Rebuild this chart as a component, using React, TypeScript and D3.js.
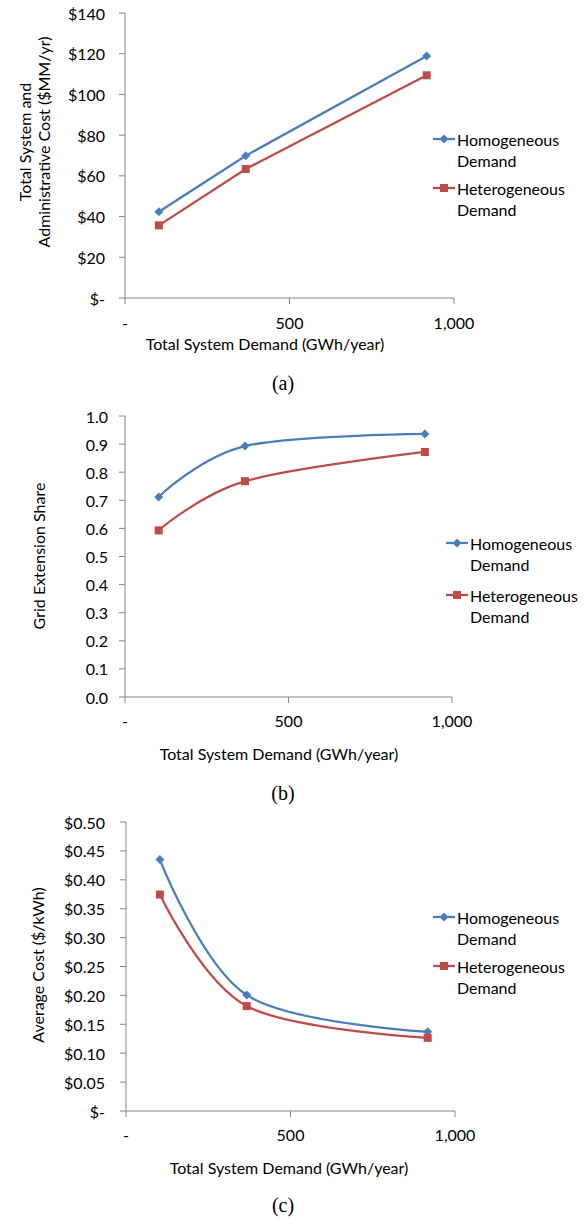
import React from "react";
import * as d3 from "d3";

const demand = [103, 367, 917];
const costHomog = [42.4, 69.9, 118.9];
const costHetero = [35.7, 63.4, 109.4];
const shareHomog = [0.712, 0.893, 0.936];
const shareHetero = [0.593, 0.768, 0.872];
const avgHomog = [0.435, 0.2006, 0.137];
const avgHetero = [0.3745, 0.1815, 0.1266];
const xTicks = [0, 500, 1000];
const xTickLabels = ["-", "500", "1,000"];
const seriesNames = ["Homogeneous", "Heterogeneous"];

const BLUE = "#4A7EBB";
const RED = "#BE4B48";
const AXIS = "#868686";
const FONT = "Lato, 'Open Sans', sans-serif";

type PanelProps = {
  x0: number; x1: number; yTop: number; yBottom: number;
  yMax: number; yStep: number; yFmt: (v: number) => string; yLabelRight: number;
  homog: number[]; hetero: number[]; smooth: boolean;
  yTitle: string[]; yTitleX: number[]; yTitleY: number;
  xLabelY: number; xTitleX: number; xTitleY: number; caption: string; captionY: number;
  legendX: number; legendY: number[];
};

function Panel(p: PanelProps) {
  const x = d3.scaleLinear().domain([0, 1000]).range([p.x0, p.x1]);
  const y = d3.scaleLinear().domain([0, p.yMax]).range([p.yBottom, p.yTop]);
  const n = Math.round(p.yMax / p.yStep);
  const yTicks = d3.range(n + 1).map((i) => i * p.yStep);
  const line = d3
    .line<number>()
    .x((_, i) => x(demand[i]))
    .y((d) => y(d))
    .curve(p.smooth ? d3.curveCardinal.tension(0) : d3.curveLinear);
  const fs = 16;
  const diamond = (cx: number, cy: number, r: number) =>
    `M${cx},${cy - r}L${cx + r},${cy}L${cx},${cy + r}L${cx - r},${cy}Z`;
  const series = [
    { vals: p.homog, color: BLUE, shape: "d" },
    { vals: p.hetero, color: RED, shape: "s" },
  ];
  return (
    <g fontFamily={FONT}>
      <line x1={p.x0} x2={p.x0} y1={p.yTop} y2={p.yBottom} stroke={AXIS} strokeWidth={1} />
      <line x1={p.x0} x2={p.x1} y1={p.yBottom} y2={p.yBottom} stroke={AXIS} strokeWidth={1} />
      {yTicks.map((t) => (
        <g key={"y" + t}>
          <line x1={p.x0 - 6} x2={p.x0} y1={y(t)} y2={y(t)} stroke={AXIS} />
          <text x={p.yLabelRight} y={y(t)} textAnchor="end" dominantBaseline="central" fontSize={fs} fill="#000">
            {p.yFmt(t)}
          </text>
        </g>
      ))}
      {xTicks.map((t, i) => (
        <g key={"x" + t}>
          <line x1={x(t)} x2={x(t)} y1={p.yBottom} y2={p.yBottom + 6} stroke={AXIS} />
          <text x={x(t)} y={p.xLabelY} textAnchor="middle" dominantBaseline="central" fontSize={fs} fill="#000">
            {xTickLabels[i]}
          </text>
        </g>
      ))}
      <text x={p.xTitleX} y={p.xTitleY} textAnchor="middle" dominantBaseline="central" fontSize={fs}>
        Total System Demand (GWh/year)
      </text>
      {p.yTitle.map((t, i) => (
        <text
          key={t}
          transform={`translate(${p.yTitleX[i]},${p.yTitleY}) rotate(-90)`}
          textAnchor="middle"
          dominantBaseline="central"
          fontSize={fs}
        >
          {t}
        </text>
      ))}
      {series.map((s, si) => (
        <g key={si}>
          <path d={line(s.vals) || ""} fill="none" stroke={s.color} strokeWidth={2.25} />
          {s.vals.map((v, i) =>
            s.shape === "d" ? (
              <path key={i} d={diamond(x(demand[i]), y(v), 4.5)} fill={s.color} />
            ) : (
              <rect key={i} x={x(demand[i]) - 4} y={y(v) - 4} width={8} height={8} fill={s.color} />
            )
          )}
        </g>
      ))}
      {series.map((s, si) => {
        const ly = p.legendY[si];
        const lx = p.legendX;
        return (
          <g key={"l" + si}>
            <line x1={lx} x2={lx + 22} y1={ly} y2={ly} stroke={s.color} strokeWidth={2.25} />
            {s.shape === "d" ? (
              <path d={diamond(lx + 11, ly, 4.5)} fill={s.color} />
            ) : (
              <rect x={lx + 7} y={ly - 4} width={8} height={8} fill={s.color} />
            )}
            <text x={lx + 24} y={ly} dominantBaseline="central" fontSize={fs}>
              {seriesNames[si]}
            </text>
            <text x={lx + 24} y={ly + 21} dominantBaseline="central" fontSize={fs}>
              Demand
            </text>
          </g>
        );
      })}
      <text
        x={283}
        y={p.captionY}
        textAnchor="middle"
        dominantBaseline="central"
        fontSize={20}
        fontFamily="'Liberation Serif', 'Times New Roman', serif"
      >
        {p.caption}
      </text>
    </g>
  );
}

const dollarInt = (v: number) => (v === 0 ? "$-" : "$" + v.toFixed(0));
const dec1 = (v: number) => v.toFixed(1);
const dollar2 = (v: number) => (v === 0 ? "$-" : "$" + v.toFixed(2));

export default function App() {
  return (
    <svg width={587} height={1220} style={{ position: "absolute", left: 0, top: 0, background: "#fff" }}>
      <rect width={587} height={1220} fill="#fff" />
      <Panel
        x0={125} x1={454} yTop={13} yBottom={298} yMax={140} yStep={20}
        yFmt={dollarInt} yLabelRight={105}
        homog={costHomog} hetero={costHetero} smooth={false}
        yTitle={["Total System and", "Administrative Cost ($MM/yr)"]}
        yTitleX={[24, 43]} yTitleY={142}
        xLabelY={322} xTitleX={265} xTitleY={343} caption="(a)" captionY={383}
        legendX={433} legendY={[139, 188]}
      />
      <Panel
        x0={125} x1={452} yTop={416} yBottom={697} yMax={1.0} yStep={0.1}
        yFmt={dec1} yLabelRight={108}
        homog={shareHomog} hetero={shareHetero} smooth={true}
        yTitle={["Grid Extension Share"]}
        yTitleX={[38]} yTitleY={556}
        xLabelY={720} xTitleX={279} xTitleY={753} caption="(b)" captionY={793}
        legendX={446} legendY={[543, 595]}
      />
      <Panel
        x0={126} x1={455} yTop={822} yBottom={1111} yMax={0.5} yStep={0.05}
        yFmt={dollar2} yLabelRight={105}
        homog={avgHomog} hetero={avgHetero} smooth={true}
        yTitle={["Average Cost ($/kWh)"]}
        yTitleX={[37]} yTitleY={965}
        xLabelY={1134} xTitleX={289} xTitleY={1167} caption="(c)" captionY={1205}
        legendX={433} legendY={[917, 966]}
      />
    </svg>
  );
}
